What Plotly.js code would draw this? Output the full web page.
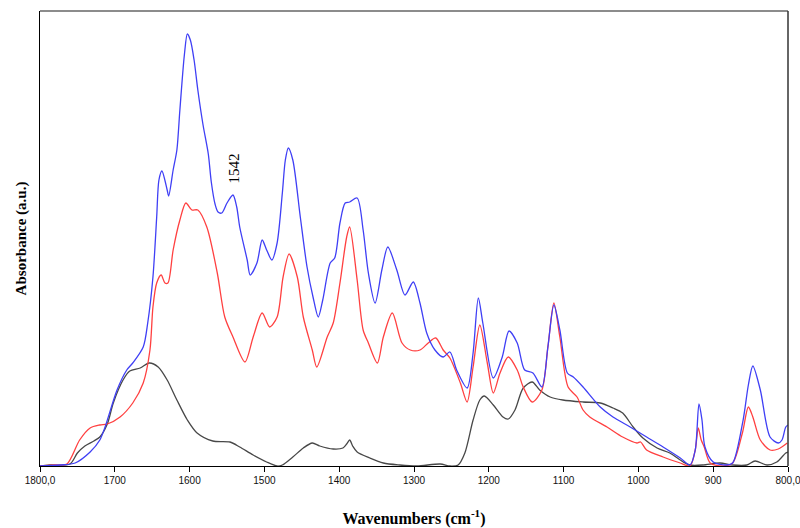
<!DOCTYPE html>
<html>
<head>
<meta charset="utf-8">
<script src="https://cdn.plot.ly/plotly-3.0.1.min.js"></script>
<style>html,body{margin:0;padding:0;background:#fff;}#chart{width:800px;height:528px;}</style>
</head>
<body>
<div id="chart"></div>
<script>
// Wavenumbers (cm-1) and absorbance (a.u.) for each spectrum
const blueWn = [1800,1773,1753,1733,1720,1713,1697,1684,1676,1662,1656,1649,1644,1641,1637,1630,1628,1622,1617,1613,1607,1603,1599,1594,1589,1582,1575,1571,1566,1562,1557,1550,1542,1537,1533,1523,1519,1510,1503,1497,1490,1483,1476,1472,1468,1462,1452,1443,1435,1428,1422,1412,1406,1399,1392,1386,1376,1368,1361,1352,1343,1335,1323,1312,1301,1292,1283,1272,1261,1252,1243,1229,1221,1214,1208,1194,1182,1173,1162,1152,1141,1129,1121,1113,1105,1095,1087,1074,1051,1034,1011,989,967,944,931,924,919,915,911,900,882,874,860,853,847,837,824,813,808,803,800];
const blueAbs = [0,1,3,14,26,39,76,96,103,119,143,189,249,286,295,276,270,296,316,356,411,432,426,406,376,341,312,284,262,254,253,263,271,259,239,206,191,203,226,216,206,223,273,306,318,306,249,199,169,149,166,203,208,243,263,264,268,236,193,163,196,219,196,171,184,163,133,116,109,114,96,78,113,168,143,88,109,135,123,96,93,79,119,161,136,93,89,79,59,49,39,29,19,8,1,16,62,46,19,4,1,3,46,81,100,76,29,23,26,39,41];

const redWn = [1800,1780,1764,1747,1733,1720,1710,1693,1676,1662,1653,1649,1644,1638,1633,1629,1622,1613,1605,1597,1589,1577,1563,1553,1542,1526,1515,1503,1493,1483,1475,1467,1456,1448,1436,1430,1416,1408,1399,1390,1386,1376,1368,1361,1349,1341,1329,1316,1305,1292,1281,1271,1261,1252,1238,1229,1221,1212,1202,1194,1185,1174,1162,1154,1142,1129,1121,1113,1105,1094,1082,1074,1065,1042,1021,1002,997,989,967,944,931,924,920,916,912,904,887,874,861,853,847,837,824,813,801];
const redAbs = [0,1,2,26,38,41,42,49,63,83,116,159,183,191,183,183,216,246,263,256,256,239,193,149,129,104,129,153,139,149,189,212,189,149,116,99,129,143,183,229,239,186,136,123,103,129,153,123,116,116,123,128,116,108,83,64,99,141,103,73,93,109,96,79,64,76,119,163,129,79,69,56,49,39,29,23,24,16,9,3,0,16,38,26,19,3,0,3,33,59,49,26,16,17,23];

const blackWn = [1800,1787,1760,1750,1740,1728,1720,1710,1702,1689,1680,1666,1654,1642,1630,1617,1603,1590,1569,1546,1533,1515,1497,1483,1476,1462,1448,1436,1426,1408,1395,1390,1386,1382,1376,1359,1341,1319,1296,1265,1252,1241,1232,1221,1212,1206,1194,1181,1174,1165,1154,1142,1132,1118,1101,1074,1051,1034,1021,1007,994,975,958,940,931,914,891,874,855,844,828,815,803,800];
const blackAbs = [0,1,2,13,20,25,29,42,63,86,95,98,103,99,86,66,46,33,25,24,19,11,4,0,1,9,18,23,20,17,18,22,26,20,14,8,3,1,0,2,0,1,13,46,66,70,61,49,47,56,78,84,76,69,66,64,63,58,53,39,28,18,13,4,1,1,3,1,1,5,1,4,13,14];

const tickVals = [1800,1700,1600,1500,1400,1300,1200,1100,1000,900,800];
const tickText = ["1800,0","1700","1600","1500","1400","1300","1200","1100","1000","900","800,0"];
const peakLabel = {wn: 1540, text: "1542", abs: 298};

const lineOpts = (color) => ({color: color, width: 1.3, shape: 'spline', smoothing: 0.8});

const traces = [
  {x: blackWn, y: blackAbs, mode: 'lines', line: lineOpts('#484848'), hoverinfo: 'skip'},
  {x: redWn, y: redAbs, mode: 'lines', line: lineOpts('#ff4040'), hoverinfo: 'skip'},
  {x: blueWn, y: blueAbs, mode: 'lines', line: lineOpts('#3f3ff5'), hoverinfo: 'skip'}
];

const layout = {
  width: 800, height: 528,
  margin: {l: 40, r: 12, t: 11, b: 62},
  paper_bgcolor: '#ffffff', plot_bgcolor: '#ffffff',
  showlegend: false,
  xaxis: {
    range: [1800, 800], autorange: false,
    tickvals: tickVals, ticktext: tickText,
    ticks: 'outside', ticklen: 5, tickcolor: '#000', tickwidth: 1,
    ticklabeloverflow: 'allow',
    showline: true, linecolor: '#000', linewidth: 1,
    showgrid: false, zeroline: false,
    tickfont: {family: 'Liberation Sans, Arial, sans-serif', size: 10, color: '#111'},
    title: {text: 'Wavenumbers (cm<sup>-1</sup>)', standoff: 28,
      font: {family: 'Liberation Serif, Times New Roman, serif', size: 16, color: '#000', weight: 'bold'}}
  },
  yaxis: {
    range: [0, 455], autorange: false,
    showticklabels: false, ticks: '', showgrid: false, zeroline: false,
    showline: true, linecolor: '#000', linewidth: 1,
    title: {text: 'Absorbance (a.u.)', standoff: 8,
      font: {family: 'Liberation Serif, Times New Roman, serif', size: 15, color: '#000', weight: 'bold'}}
  },
  shapes: [
    {type: 'line', xref: 'paper', yref: 'paper', x0: 0, x1: 1, y0: 1, y1: 1, line: {color: '#8c8c8c', width: 2}},
    {type: 'line', xref: 'paper', yref: 'paper', x0: 1, x1: 1, y0: 0, y1: 1, line: {color: '#333', width: 1.5}}
  ],
  annotations: [
    {x: peakLabel.wn, y: peakLabel.abs, xref: 'x', yref: 'y', text: peakLabel.text, showarrow: false,
      textangle: -90, font: {family: 'Liberation Serif, Times New Roman, serif', size: 15, color: '#000'}}
  ]
};

Plotly.newPlot('chart', traces, layout, {displayModeBar: false, staticPlot: true});
</script>
</body>
</html>
